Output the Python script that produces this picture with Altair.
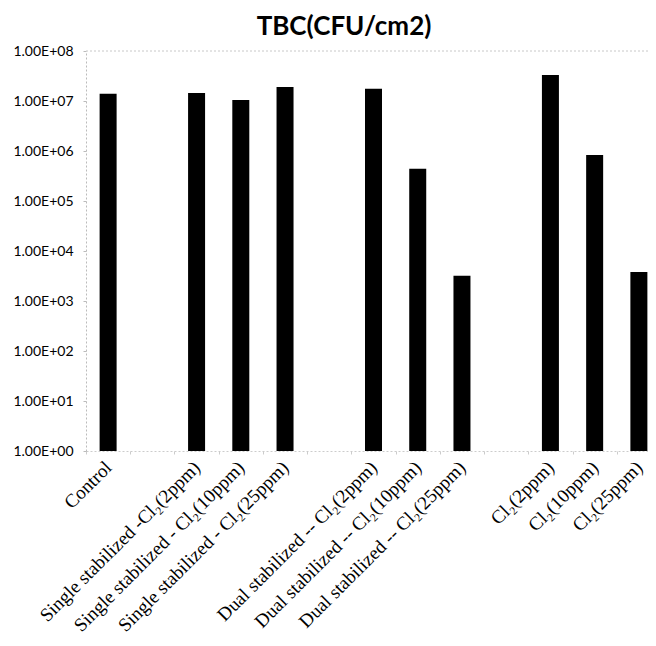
import altair as alt
import pandas as pd

categories = [
    "Control", " ",
    "Single stabilized -Cl₂(2ppm)", "Single stabilized - Cl₂(10ppm)", "Single stabilized - Cl₂(25ppm)", "  ",
    "Dual stabilized -- Cl₂(2ppm)", "Dual stabilized -- Cl₂(10ppm)", "Dual stabilized -- Cl₂(25ppm)", "   ",
    "Cl₂(2ppm)", "Cl₂(10ppm)", "Cl₂(25ppm)",
]
values = [1.4e7, None, 1.45e7, 1.05e7, 1.9e7, None, 1.75e7, 4.4e5, 3.2e3, None, 3.3e7, 8.3e5, 3.8e3]
y_ticks = [1, 10, 100, 1e3, 1e4, 1e5, 1e6, 1e7, 1e8]

df = pd.DataFrame({"cat": categories, "val": values})
df = df[df["val"].notna()].copy()
df["base"] = 1.0

yscale = alt.Scale(type="log", domain=[1, 1e8], nice=False)

bars = alt.Chart(df).mark_bar(size=17, color="black").encode(
    x=alt.X("cat:N",
            scale=alt.Scale(domain=categories, range=[0, 575], paddingInner=0, paddingOuter=0),
            axis=alt.Axis(title=None, labelAngle=-45, labelAlign="right", labelBaseline="middle",
                          labelFont="Liberation Serif", labelFontSize=19, labelColor="black",
                          labelPadding=10, labelLimit=400, domainColor="#cccccc", domainDash=[2, 2],
                          tickColor="#cccccc", tickSize=3, tickBand="extent")),
    y=alt.Y("val:Q", scale=yscale,
            axis=alt.Axis(title=None, values=y_ticks, grid=False,
                          labelExpr="'1.00E+0' + round(log(datum.value)/LN10)",
                          labelFont="Lato", labelFontSize=14, labelColor="black",
                          labelPadding=10, domainColor="#bbbbbb", domainDash=[2, 2],
                          tickColor="#bbbbbb", tickSize=3)),
    y2="base:Q",
)

top_rule = alt.Chart(pd.DataFrame({"v": [1e8]})).mark_rule(
    color="#c8c8c8", strokeDash=[2, 2], strokeWidth=1
).encode(y=alt.Y("v:Q", scale=yscale))

chart = alt.layer(top_rule, bars).properties(
    width=562, height=400,
    title=alt.TitleParams("TBC(CFU/cm2)", font="Lato", fontSize=26, fontWeight="bold",
                          color="black", dx=-23, offset=4),
    autosize=alt.AutoSizeParams(type="none"),
    padding={"left": 78, "top": 43, "right": 0, "bottom": 186},
).configure_view(stroke=None)

chart.save("out.html", embed_options={"renderer": "svg", "actions": False})
